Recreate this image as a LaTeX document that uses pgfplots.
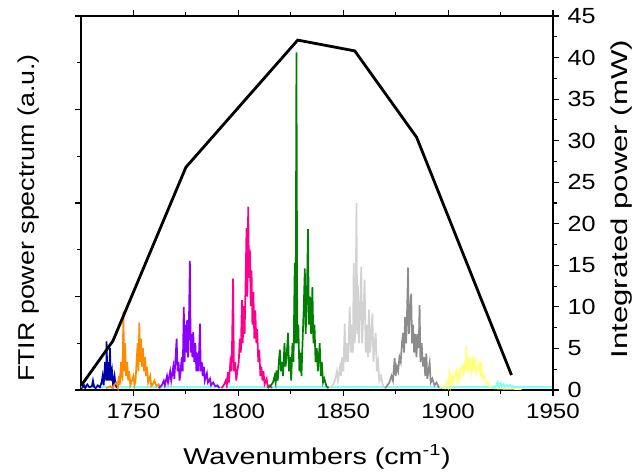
\documentclass[border=0pt]{standalone}
\usepackage{fontspec}
\setmainfont{Liberation Sans}
\usepackage{pgfplots}
\pgfplotsset{compat=1.18}
\definecolor{cnavy}{RGB}{0,0,170}
\definecolor{corange}{RGB}{255,140,0}
\definecolor{cpurple}{RGB}{140,0,255}
\definecolor{cpink}{RGB}{255,0,140}
\definecolor{cgreen}{RGB}{0,128,0}
\definecolor{clgray}{RGB}{210,210,210}
\definecolor{cdgray}{RGB}{140,140,140}
\definecolor{cyellow}{RGB}{255,255,128}
\definecolor{ccyan}{RGB}{128,255,255}
\begin{document}
\begin{tikzpicture}
\pgfplotsset{
 common/.style={width=472bp,height=374bp,scale only axis,
  xmin=1725,xmax=1950,
  /pgf/number format/assume math mode=true,
  /pgf/number format/1000 sep={},
  every tick/.style={black, line width=1.1bp},
  axis line style={-, line width=1.1bp},
  tick align=outside, major tick length=6bp, minor tick length=4bp,
  tick label style={font=\fontsize{21}{21}\selectfont, xscale=1.15},
  label style={font=\fontsize{23}{23}\selectfont},
 },
}
\begin{axis}[common, name=a, ymin=0, ymax=4,
  xtick={1750,1800,1850,1900,1950}, minor xtick={1775,1825,1875,1925},
  xtick pos=both,
  xticklabel style={yshift=-4bp},
  ytick={0,1,2,3,4}, minor ytick={0.5,1.5,2.5,3.5}, ytick pos=left,
  yticklabels={},
  xlabel={Wavenumbers (cm\textsuperscript{-1})},
  ylabel={FTIR power spectrum (a.u.)},
  xlabel style={at={(axis description cs:0.5,-0.2005)}, anchor=base, xscale=1.25},
  ylabel style={at={(axis description cs:-0.112,0.46)}, anchor=center, xscale=1.17},
  every axis plot/.append style={line width=1.7bp},
]
% cyan baseline (drawn first, shows along the bottom)
\addplot[ccyan, line width=2bp] coordinates {(1725,0.03) (1920,0.03) (1921,0.035) (1922,0.03) (1923,0.05) (1923.6,0.08) (1924.2,0.035) (1925,0.07) (1925.6,0.04) (1926.3,0.06) (1927,0.035) (1928,0.05) (1928.8,0.035) (1929.5,0.05) (1930.3,0.03) (1931,0.04) (1932,0.03) (1933,0.035) (1934,0.03) (1950,0.03)};
% blue
\addplot[cnavy] coordinates {(1725.5,0.02) (1726.5,0.05) (1727,0.02) (1728,0.06) (1729,0.03) (1730.2,0.04) (1730.7,0.1) (1731.3,0.03) (1732,0.02) (1733,0.05) (1734,0.03) (1734.8,0.08) (1735.3,0.15) (1735.8,0.05) (1736.5,0.3) (1737,0.1) (1737.2,0.52) (1737.6,0.1) (1738.2,0.3) (1738.5,0.1) (1738.8,0.45) (1739.2,0.1) (1739.8,0.2) (1740.3,0.05) (1741,0.15) (1741.5,0.05) (1742.5,0.02)};
% orange
\addplot[corange] coordinates {(1737,0.02) (1739,0.04) (1740,0.02) (1741,0.06) (1742,0.08) (1742.6,0.03) (1743,0.15) (1743.5,0.05) (1744,0.3) (1744.8,0.1) (1745.2,0.84) (1745.6,0.2) (1746,0.5) (1746.5,0.15) (1747,0.3) (1747.5,0.1) (1748,0.2) (1748.5,0.05) (1749,0.08) (1750,0.15) (1750.5,0.05) (1751,0.1) (1751.5,0.3) (1752,0.5) (1752.4,0.2) (1752.8,0.72) (1753.2,0.3) (1753.6,0.55) (1754,0.25) (1754.5,0.45) (1755,0.2) (1755.5,0.35) (1756,0.15) (1756.5,0.25) (1757,0.08) (1758,0.15) (1758.5,0.04) (1759,0.05) (1760,0.1) (1761,0.04) (1762,0.06) (1763,0.02)};
% purple
\addplot[cpurple] coordinates {(1762,0.02) (1763.5,0.05) (1764.5,0.1) (1765,0.05) (1766,0.15) (1766.5,0.08) (1767.5,0.2) (1768,0.1) (1769,0.25) (1769.5,0.12) (1770.2,0.4) (1770.6,0.55) (1771,0.2) (1771.5,0.3) (1772,0.1) (1772.5,0.2) (1773,0.35) (1773.5,0.2) (1774,0.89) (1774.4,0.3) (1774.8,0.7) (1775.2,0.4) (1775.6,0.75) (1776,0.35) (1776.5,0.8) (1776.9,1.38) (1777.3,0.4) (1777.7,0.6) (1778.1,0.35) (1778.5,0.62) (1779,0.3) (1779.5,0.5) (1780,0.2) (1780.5,0.4) (1781,0.2) (1781.7,0.71) (1782.1,0.2) (1782.6,0.3) (1783,0.15) (1783.6,0.25) (1784,0.1) (1785,0.18) (1785.5,0.08) (1786.5,0.12) (1787,0.05) (1788,0.08) (1789,0.04) (1790,0.05) (1791,0.02)};
% pink
\addplot[cpink] coordinates {(1792,0.02) (1793,0.05) (1794,0.1) (1794.5,0.05) (1795,0.19) (1795.5,0.08) (1796.2,0.3) (1796.8,0.2) (1797.5,1.19) (1797.9,0.2) (1798.5,0.3) (1799,0.1) (1799.5,0.2) (1800.2,0.3) (1800.7,0.55) (1801.2,0.4) (1801.7,0.96) (1802.1,0.5) (1802.6,0.9) (1803,0.6) (1803.5,1.2) (1803.9,1.73) (1804.3,1.0) (1804.7,1.96) (1805.1,1.2) (1805.5,1.5) (1805.9,0.9) (1806.3,1.28) (1806.7,0.7) (1807.2,1.05) (1807.6,0.55) (1808.1,0.85) (1808.6,0.5) (1809,0.65) (1809.5,0.3) (1810,0.43) (1810.5,0.15) (1811,0.25) (1811.5,0.1) (1812,0.2) (1812.5,0.06) (1813.5,0.12) (1814,0.04) (1815,0.05) (1816,0.02)};
% green
\addplot[cgreen] coordinates {(1814,0.02) (1815.5,0.05) (1816.5,0.08) (1817.3,0.15) (1817.8,0.08) (1818.2,0.21) (1818.8,0.1) (1819.3,0.3) (1819.8,0.43) (1820.3,0.2) (1820.8,0.3) (1821.3,0.15) (1822,0.5) (1822.5,0.25) (1823,0.35) (1823.7,0.61) (1824.2,0.2) (1824.7,0.35) (1825.2,0.1) (1825.8,0.5) (1826.3,0.3) (1826.9,1.36) (1827.3,0.5) (1827.7,3.61) (1828.1,0.5) (1828.6,0.7) (1829.1,0.2) (1829.6,0.4) (1830.1,0.15) (1830.6,0.5) (1831.2,0.9) (1831.7,1.3) (1832.1,0.6) (1832.7,1.0) (1833.2,1.72) (1833.6,0.7) (1834.1,1.0) (1834.7,0.6) (1835.3,1.1) (1835.8,0.5) (1836.3,0.7) (1836.8,0.3) (1837.4,0.45) (1837.9,0.2) (1838.8,0.5) (1839.3,0.15) (1839.8,0.3) (1840.4,0.08) (1841,0.12) (1842,0.04) (1843,0.02)};
% light gray
\addplot[clgray] coordinates {(1844,0.02) (1845,0.05) (1846,0.1) (1847,0.2) (1847.5,0.1) (1848.5,0.25) (1849,0.15) (1849.5,0.35) (1850.1,0.2) (1850.7,0.71) (1851.2,0.3) (1851.8,0.5) (1852.3,0.3) (1853.1,0.89) (1853.6,0.4) (1854.2,0.7) (1854.6,0.4) (1855,1.36) (1855.5,0.5) (1855.9,0.8) (1856.3,2.0) (1856.7,0.6) (1857,1.12) (1857.5,0.5) (1858,0.8) (1858.6,1.32) (1859,0.5) (1859.6,0.8) (1860.2,1.18) (1860.7,0.4) (1861.3,0.7) (1861.8,0.35) (1862.3,0.86) (1862.8,0.4) (1863.4,0.6) (1863.9,0.82) (1864.4,0.3) (1865,0.5) (1865.5,0.61) (1866,0.2) (1866.6,0.3) (1867.2,0.1) (1868,0.15) (1869,0.04) (1870,0.02)};
% dark gray
\addplot[cdgray] coordinates {(1870,0.02) (1871,0.05) (1872,0.08) (1873,0.15) (1873.7,0.1) (1874.5,0.34) (1875,0.15) (1875.6,0.25) (1876.2,0.2) (1876.8,0.35) (1877.4,0.3) (1878,0.5) (1878.5,0.61) (1879,0.4) (1879.5,0.78) (1880,0.5) (1880.5,0.9) (1880.9,1.31) (1881.3,0.6) (1881.8,0.8) (1882.4,1.03) (1882.8,0.5) (1883.3,0.7) (1883.8,0.4) (1884.4,0.6) (1884.9,0.35) (1885.5,0.6) (1886,0.45) (1886.4,0.91) (1886.8,0.3) (1887.4,0.5) (1888,0.25) (1888.6,0.35) (1889.1,0.15) (1889.6,0.39) (1890.1,0.12) (1890.6,0.2) (1891.2,0.29) (1891.7,0.08) (1892.5,0.12) (1893.5,0.05) (1894.5,0.08) (1895.5,0.03) (1897,0.02)};
% yellow
\addplot[cyellow] coordinates {(1896,0.02) (1897.5,0.04) (1898.5,0.02) (1899.5,0.08) (1900,0.04) (1900.7,0.18) (1901.2,0.06) (1901.8,0.15) (1902.3,0.08) (1903,0.15) (1903.9,0.21) (1904.4,0.1) (1905,0.2) (1905.5,0.12) (1906.2,0.22) (1906.9,0.25) (1907.4,0.15) (1907.9,0.3) (1908.3,0.2) (1908.7,0.47) (1909.1,0.2) (1909.6,0.35) (1910.1,0.2) (1910.6,0.3) (1911.2,0.2) (1911.8,0.36) (1912.3,0.2) (1913,0.35) (1913.5,0.18) (1914.2,0.25) (1915,0.29) (1915.4,0.15) (1915.8,0.3) (1916.3,0.12) (1917,0.15) (1917.5,0.15) (1918,0.06) (1919,0.08) (1920,0.03) (1921,0.02) (1925,0.015) (1935,0.01)};
% cyan bump on top
\addplot[ccyan, line width=1.6bp] coordinates {(1921,0.03) (1922,0.02) (1923,0.05) (1923.6,0.08) (1924.2,0.035) (1925,0.07) (1925.6,0.04) (1926.3,0.06) (1927,0.035) (1928,0.05) (1928.8,0.035) (1929.5,0.05) (1930.3,0.03) (1931,0.04) (1932,0.03) (1933,0.035) (1934,0.03) (1937,0.03)};
\end{axis}
\begin{axis}[common, ymin=0, ymax=45,
  hide x axis, axis y line*=right,
  ytick={0,5,...,45}, minor ytick={2.5,7.5,...,42.5},
  yticklabel style={font=\fontsize{22}{22}\selectfont, xshift=4bp},
  ylabel={Integrated power (mW)},
  ylabel style={at={(axis description cs:1.146,0.51)}, anchor=center, xscale=1.36},
]
\addplot[black, line width=2.8bp] coordinates {(1725,0.5) (1740.2,5.9) (1775,26.8) (1828.3,42.1) (1855.5,40.8) (1885,30.4) (1930.2,1.8)};
\end{axis}
\pgfresetboundingbox
\path[use as bounding box] ([xshift=-81bp,yshift=-86bp]a.south west) rectangle ++(644bp,476bp);
\end{tikzpicture}
\end{document}
